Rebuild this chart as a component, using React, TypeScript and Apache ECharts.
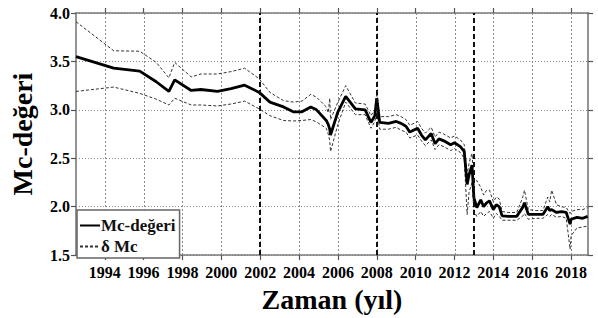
import React, { useEffect, useRef } from "react";
import * as echarts from "echarts";

const years = [
  1992.52, 1994.46, 1995.8, 1996.65, 1997.3, 1997.6, 1998.45, 1998.95, 1999.8, 2000.5,
  2001.2, 2001.95, 2002.5, 2003.2, 2003.7, 2004.15, 2004.6, 2004.9, 2005.4, 2005.5,
  2005.58, 2005.62, 2006.0, 2006.4, 2006.9, 2007.4, 2007.7, 2007.9, 2008.0, 2008.15,
  2008.6, 2009.0, 2009.25, 2009.5, 2009.7, 2010.1, 2010.3, 2010.5, 2010.8, 2011.0,
  2011.2, 2011.45, 2011.8, 2012.0, 2012.3, 2012.5, 2012.65, 2012.75, 2012.9, 2013.0,
  2013.15, 2013.35, 2013.5, 2013.65, 2013.8, 2014.0, 2014.15, 2014.3, 2014.45, 2014.8,
  2015.2, 2015.5, 2015.6, 2015.8, 2016.2, 2016.55, 2016.8, 2016.9, 2017.0, 2017.25,
  2017.5, 2017.75, 2017.95, 2018.0, 2018.3, 2018.6, 2018.85,
];
const mcValues = [
  3.55, 3.43, 3.4, 3.29, 3.19, 3.31, 3.2, 3.21, 3.19, 3.22,
  3.255, 3.18, 3.08, 3.03, 2.98, 2.98, 3.03, 3.0, 2.89, 2.85,
  2.8, 2.74, 2.98, 3.14, 3.01, 3.0, 2.87, 2.94, 3.12, 2.87,
  2.86, 2.88, 2.86, 2.83, 2.77, 2.81, 2.74, 2.69, 2.755, 2.65,
  2.7, 2.68, 2.64, 2.66, 2.62, 2.57, 2.23, 2.33, 2.43, 2.09,
  1.99, 2.07, 2.0, 2.04, 2.06, 1.97, 2.02, 2.0, 1.905, 1.9,
  1.9, 1.99, 2.04, 1.92, 1.92, 1.92, 2.0, 1.96, 1.97, 1.94,
  1.95, 1.94, 1.82, 1.87, 1.89, 1.88, 1.9,
];
const upperValues = [
  3.91, 3.61, 3.605, 3.49, 3.33, 3.49, 3.34, 3.37, 3.37, 3.395,
  3.43, 3.32, 3.18, 3.095, 3.08, 3.09, 3.16, 3.13, 3.03, 2.97,
  3.12, 2.9, 3.08, 3.25, 3.07, 3.06, 2.94, 3.0, 3.18, 2.93,
  2.93, 2.95, 2.93, 2.9, 2.84, 2.88, 2.81, 2.76, 2.82, 2.72,
  2.77, 2.75, 2.71, 2.73, 2.69, 2.64, 2.33, 2.45, 2.55, 2.25,
  2.27, 2.2, 2.12, 2.17, 2.17, 2.05, 2.1, 2.08, 1.95, 1.94,
  1.94, 2.09, 2.17, 1.97, 1.96, 1.96, 2.1, 2.05, 2.17, 2.02,
  2.0, 1.99, 1.93, 1.95, 1.97, 1.97, 1.99,
];
const lowerValues = [
  3.19, 3.235, 3.17, 3.11, 3.05, 3.12, 3.05, 3.05, 3.04, 3.06,
  3.09, 3.01, 2.94, 2.89, 2.885, 2.89, 2.9, 2.875, 2.81, 2.75,
  2.68, 2.57, 2.85, 3.08, 2.95, 2.95, 2.81, 2.88, 2.98, 2.8,
  2.8, 2.82, 2.79, 2.77, 2.71, 2.74, 2.68, 2.63, 2.69, 2.59,
  2.64, 2.62, 2.58, 2.6, 2.56, 2.5, 1.92, 2.15, 2.25, 1.95,
  1.9, 1.95, 1.9, 1.93, 1.95, 1.88, 1.93, 1.9, 1.86, 1.86,
  1.86, 1.9, 1.93, 1.87, 1.88, 1.88, 1.92, 1.9, 1.92, 1.89,
  1.9, 1.88, 1.56, 1.7, 1.78, 1.79, 1.8,
];
const xTickYears = [1994, 1996, 1998, 2000, 2002, 2004, 2006, 2008, 2010, 2012, 2014, 2016, 2018];
const eventYears = [2002, 2008, 2013];
const xMin = 1992.52;
const xMax = 2018.87;
const yMin = 1.5;
const yMax = 4.0;
const yStep = 0.5;

const FONT = "Liberation Serif";

export default function App() {
  const ref = useRef<HTMLDivElement>(null);
  useEffect(() => {
    if (!ref.current) return;
    const chart = echarts.init(ref.current, undefined, { renderer: "svg" });
    const zip = (vals: number[]) => years.map((y, i) => [y, vals[i]]);
    const axisLine = { show: true, lineStyle: { color: "#7a7a7a", width: 1.6 } };
    const axisTick = { show: true, inside: false, length: 5, lineStyle: { color: "#555", width: 1.2 } };
    const gridStyle = { color: "#8a8a8a", type: [1, 2] as any, width: 1 };
    const eventStyle = { color: "#111", type: [5, 3] as any, width: 2 };
    const bandStyle = { color: "#333", width: 1, type: [3, 2] as any };
    chart.setOption({
      animation: false,
      backgroundColor: "#fff",
      textStyle: { fontFamily: FONT },
      tooltip: { show: false },
      grid: { left: 72, right: 10, top: 13, bottom: 59, containLabel: false },
      legend: {
        left: 77,
        top: 210,
        orient: "vertical",
        backgroundColor: "#fff",
        borderColor: "#666",
        borderWidth: 1.5,
        borderRadius: 0,
        padding: [7, 4, 3, 2],
        itemGap: 4,
        itemWidth: 20,
        itemHeight: 17,
        itemStyle: { opacity: 0 },
        data: ["Mc-değeri", "δ Mc"],
        textStyle: { fontFamily: FONT, fontWeight: "bold", fontSize: 17, color: "#111", padding: [0, 0, 0, -4] },
      },
      xAxis: [
        {
          type: "value",
          min: xMin,
          max: xMax,
          name: "Zaman (yıl)",
          nameLocation: "middle",
          nameGap: 15,
          nameTextStyle: { fontFamily: FONT, fontWeight: "bold", fontSize: 28, color: "#000" },
          axisLine,
          axisTick: { ...axisTick, customValues: xTickYears },
          axisLabel: {
            customValues: xTickYears,
            margin: 9,
            fontFamily: FONT,
            fontWeight: "bold",
            fontSize: 16,
            color: "#000",
            formatter: (v: number) => String(Math.round(v)),
          },
          splitLine: { show: false },
        },
        {
          type: "value",
          position: "top",
          min: xMin,
          max: xMax,
          axisLine,
          axisTick: { ...axisTick, customValues: xTickYears },
          axisLabel: { show: false, customValues: xTickYears },
          splitLine: { show: false },
        },
      ],
      yAxis: [
        {
          type: "value",
          min: yMin,
          max: yMax,
          interval: yStep,
          name: "Mc-değeri",
          nameLocation: "middle",
          nameGap: 40,
          nameTextStyle: { fontFamily: FONT, fontWeight: "bold", fontSize: 28, color: "#000" },
          axisLine,
          axisTick,
          axisLabel: {
            margin: 6,
            fontFamily: FONT,
            fontWeight: "bold",
            fontSize: 16,
            color: "#000",
            formatter: (v: number) => v.toFixed(1),
          },
          splitLine: { show: true, lineStyle: gridStyle },
        },
        {
          type: "value",
          position: "right",
          min: yMin,
          max: yMax,
          interval: yStep,
          axisLine,
          axisTick,
          axisLabel: { show: false },
          splitLine: { show: false },
        },
      ],
      series: [
        {
          name: "xgrid",
          type: "custom",
          silent: true,
          z: 1,
          data: xTickYears.map((y) => [y]),
          encode: { x: 0 },
          renderItem: (params: any, api: any) => {
            const top = api.coord([api.value(0), yMax]);
            const bottom = api.coord([api.value(0), yMin]);
            const x = Math.round(top[0]) + 0.5;
            return {
              type: "line",
              shape: { x1: x, y1: top[1], x2: x, y2: bottom[1] },
              style: { stroke: "#8a8a8a", lineWidth: 1, lineDash: [2, 2], fill: null },
            };
          },
        },
        {
          name: "δ Mc",
          type: "line",
          data: zip(upperValues),
          symbol: "none",
          lineStyle: bandStyle,
          itemStyle: { color: "#333" },
          z: 2,
        },
        {
          name: "δ Mc",
          type: "line",
          data: zip(lowerValues),
          symbol: "none",
          lineStyle: bandStyle,
          itemStyle: { color: "#333" },
          z: 2,
        },
        {
          name: "Mc-değeri",
          type: "line",
          data: zip(mcValues),
          symbol: "none",
          lineStyle: { color: "#000", width: 2.8 },
          itemStyle: { color: "#000" },
          z: 3,
          markLine: {
            silent: true,
            symbol: ["none", "none"],
            label: { show: false },
            lineStyle: eventStyle,
            data: eventYears.map((y) => ({ xAxis: y })),
          },
        },
      ],
    });
    return () => chart.dispose();
  }, []);
  return (
    <div
      ref={ref}
      style={{ position: "absolute", left: 0, top: 0, width: 598, height: 318 }}
    />
  );
}
